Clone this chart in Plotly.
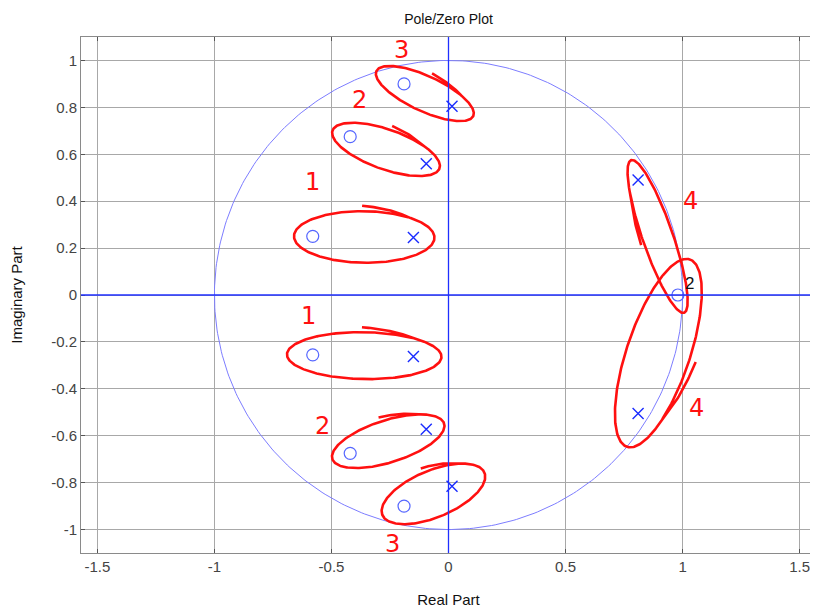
import numpy as np
import plotly.graph_objects as go

# ---- data ----
zeros_re = [-0.19, -0.42, -0.58, -0.58, -0.42, -0.19, 0.98]
zeros_im = [0.90, 0.675, 0.25, -0.255, -0.675, -0.90, 0.0]
poles_re = [0.015, -0.095, -0.15, -0.15, -0.095, 0.015, 0.81, 0.81]
poles_im = [0.805, 0.56, 0.245, -0.262, -0.572, -0.815, 0.49, -0.505]
x_ticks = [-1.5, -1, -0.5, 0, 0.5, 1, 1.5]
y_ticks = [-1, -0.8, -0.6, -0.4, -0.2, 0, 0.2, 0.4, 0.6, 0.8, 1]
multiplicity_label = "2"

# hand-drawn grouping: (zero index, pole index, group label)
groups = [(0, 0, "3"), (1, 1, "2"), (2, 2, "1"), (3, 3, "1"),
          (4, 4, "2"), (5, 5, "3"), (6, 6, "4"), (6, 7, "4")]
# loop padding (zero side, pole side, half-width) - styling of the hand strokes
loop_pad = [(0.13, 0.10, 0.075), (0.08, 0.06, 0.085), (0.08, 0.09, 0.11),
            (0.11, 0.12, 0.10), (0.08, 0.08, 0.09), (0.10, 0.15, 0.10),
            (0.08, 0.09, 0.065), (0.16, 0.15, 0.135)]
label_pos = [(-0.2, 1.045), (-0.38, 0.83), (-0.58, 0.48), (-0.6, -0.09),
             (-0.54, -0.56), (-0.24, -1.06), (1.035, 0.40), (1.06, -0.48)]

RED = "#ff1010"
fig = go.Figure()

# unit circle
th = np.linspace(0, 2 * np.pi, 400)
fig.add_trace(go.Scatter(x=np.cos(th), y=np.sin(th), mode="lines",
                         line=dict(color="#7d7dff", width=1), hoverinfo="skip"))

# red loops
for (zi, pi_, lab), (pz, pp, w) in zip(groups, loop_pad):
    z = np.array([zeros_re[zi], zeros_im[zi]])
    p = np.array([poles_re[pi_], poles_im[pi_]])
    u = (p - z) / np.linalg.norm(p - z)
    v = np.array([-u[1], u[0]])
    a0 = z - pz * u
    a1 = p + pp * u
    c = (a0 + a1) / 2
    A = np.linalg.norm(a1 - a0) / 2
    t0 = 0.9
    t = np.linspace(t0, t0 + 2 * np.pi + 0.7, 300)
    extra = np.clip(t - (t0 + 2 * np.pi), 0, None)
    s = 1 + 0.3 * extra
    xs = c[0] + A * np.cos(t) * s * u[0] + w * np.sin(t) * s * v[0]
    ys = c[1] + A * np.cos(t) * s * u[1] + w * np.sin(t) * s * v[1]
    fig.add_trace(go.Scatter(x=xs, y=ys, mode="lines",
                             line=dict(color=RED, width=2.6),
                             hoverinfo="skip"))

# zeros and poles
fig.add_trace(go.Scatter(x=zeros_re, y=zeros_im, mode="markers",
                         marker=dict(symbol="circle-open", size=12, color="#5566ff",
                                     line=dict(width=1.2, color="#5566ff"))))
fig.add_trace(go.Scatter(x=poles_re, y=poles_im, mode="markers",
                         marker=dict(symbol="x-thin-open", size=11, color="#1a2cff",
                                     line=dict(width=1.4, color="#1a2cff"))))

# group labels
for (zi, pi_, lab), (lx, ly) in zip(groups, label_pos):
    fig.add_annotation(x=lx, y=ly, text=lab, showarrow=False,
                       font=dict(family="DejaVu Sans", size=24, color=RED))
fig.add_annotation(x=zeros_re[6] + 0.05, y=zeros_im[6] + 0.05, text=multiplicity_label,
                   showarrow=False, font=dict(family="Liberation Sans", size=17, color="#111"))

# blue axes lines
fig.add_shape(type="line", x0=0, x1=0, y0=0, y1=1, xref="x", yref="paper",
              line=dict(color="#1f2fff", width=1.3))
fig.add_shape(type="line", x0=0, x1=1, y0=0, y1=0, xref="paper", yref="y",
              line=dict(color="#1f2fff", width=1.3))

axis_common = dict(showgrid=True, gridcolor="#a8a8a8", gridwidth=1, zeroline=False,
                   showline=True, linecolor="#8a8a8a", linewidth=1, mirror="ticks",
                   ticks="inside", ticklen=4, tickcolor="#555", automargin=False,
                   tickfont=dict(family="Liberation Sans", size=15, color="#444"))
# page body has an 8px default margin, so the figure is sized to fit the window
fig.update_layout(
    width=810, height=603,
    margin=dict(l=73, r=2, t=29, b=58),
    paper_bgcolor="white", plot_bgcolor="white",
    showlegend=False,
    title=dict(text="Pole/Zero Plot", x=0.5, xref="paper", xanchor="center",
               y=0.99, yanchor="top",
               font=dict(family="Liberation Sans", size=14, color="#111")),
    xaxis=dict(range=[-1.57, 1.57], tickvals=x_ticks,
               ticktext=[f"{v:g}" for v in x_ticks],
               title=dict(text="Real Part", standoff=20,
                          font=dict(family="Liberation Sans", size=15, color="#111")),
               **axis_common),
    yaxis=dict(range=[-1.1, 1.1], tickvals=y_ticks,
               ticktext=[f"{v:g}" for v in y_ticks],
               title=dict(text="Imaginary Part", standoff=30,
                          font=dict(family="Liberation Sans", size=15, color="#111")),
               **axis_common),
)

fig.write_html("out.html")
